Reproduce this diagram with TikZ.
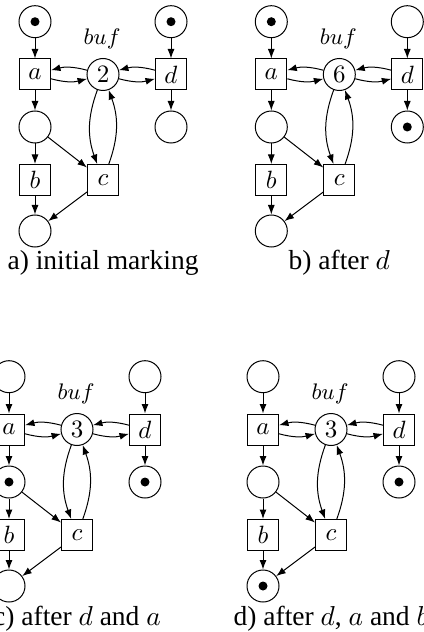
\documentclass[tikz,border=0pt]{standalone}
\usepackage[no-math]{fontspec}
\setmainfont{Liberation Serif}
\usetikzlibrary{arrows.meta}
\tikzset{
  x=0.4pt, y=-0.4pt,
  nodefont/.style={font=\fontsize{10}{11}\selectfont},
  place/.style={circle, draw, minimum size=12.8pt, inner sep=0pt, nodefont},
  trans/.style={rectangle, draw, minimum size=12.4pt, inner sep=0pt, nodefont},
  marked/.style={path picture={\fill (path picture bounding box.center) circle (1.8pt);}},
  arc/.style={-{Latex[length=3.8pt,width=2.8pt]}},
  caption/.style={anchor=base, inner sep=0pt, font=\fontsize{11}{13}\selectfont},
  buflabel/.style={inner sep=0pt, font=\fontsize{9}{10}\selectfont}
}
% #1 prefix, #2 shift, #3-#7 marks of p1..p5, #8 buf tokens, #9 caption
\newcommand\petrinet[9]{%
\begin{scope}[shift={#2}]
  \node[place,#3] (#1p1) at (35,21.7) {};
  \node[place,#4] (#1p2) at (171,21.7) {};
  \node[trans] (#1a) at (35,74.5) {$a$};
  \node[place] (#1buf) at (103,74.5) {$#8$};
  \node[trans] (#1d) at (171,74.5) {$d$};
  \node[place,#5] (#1p3) at (35,127) {};
  \node[place,#6] (#1p4) at (171,127) {};
  \node[trans] (#1b) at (35,180) {$b$};
  \node[trans] (#1c) at (103,180) {$c$};
  \node[place,#7] (#1p5) at (35,231) {};
  \node[buflabel] (#1lbl) at (102,39) {$buf$};
  \node[caption] (#1cap) at (103,270) {#9};
  \draw[arc] (#1p1) -- (#1a);
  \draw[arc] (#1a) -- (#1p3);
  \draw[arc] (#1p3) -- (#1b);
  \draw[arc] (#1b) -- (#1p5);
  \draw[arc] (#1p3) -- (#1c);
  \draw[arc] (#1c) -- (#1p5);
  \draw[arc] (#1p2) -- (#1d);
  \draw[arc] (#1d) -- (#1p4);
  \draw[arc] (#1buf) to[bend right=15] (#1a);
  \draw[arc] (#1a) to[bend right=15] (#1buf);
  \draw[arc] (#1d) to[bend right=15] (#1buf);
  \draw[arc] (#1buf) to[bend right=15] (#1d);
  \draw[arc] (#1buf) to[bend right=20] (#1c);
  \draw[arc] (#1c) to[bend right=20] (#1buf);
\end{scope}}
\begin{document}
\begin{tikzpicture}
\useasboundingbox (0,0) rectangle (424,632);
\clip (0,0) rectangle (424,632);
\petrinet{A}{(0,0)}{marked}{marked}{}{}{}{2}{a) initial marking}
\petrinet{B}{(236.3,0)}{marked}{}{}{marked}{}{6}{b) after $d$}
\petrinet{C}{(-26,355)}{}{}{marked}{marked}{}{3}{c) after $d$ and $a$}
\petrinet{D}{(228,355)}{}{}{}{marked}{marked}{3}{d) after $d$, $a$ and $b$}
\end{tikzpicture}
\end{document}
